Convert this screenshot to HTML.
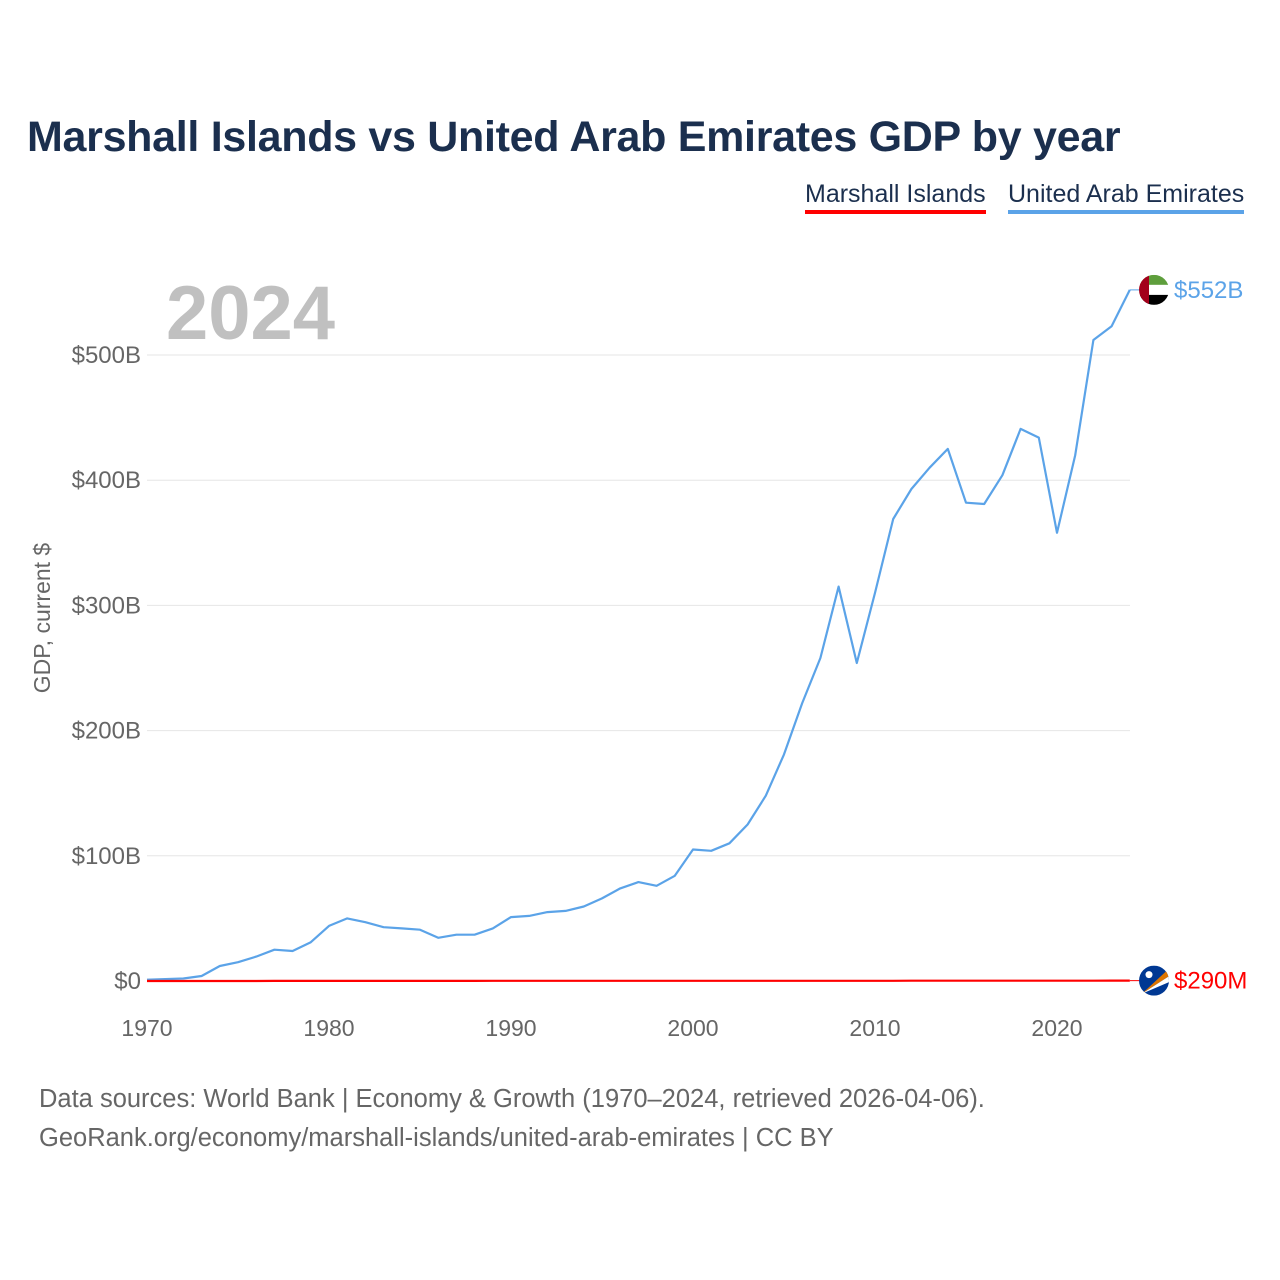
<!DOCTYPE html>
<html><head><meta charset="utf-8">
<style>
body{margin:0;background:#fff;font-family:"Liberation Sans",sans-serif;}
#wrap{position:relative;width:1280px;height:1280px;overflow:hidden;}
.t{position:absolute;white-space:nowrap;}
</style></head>
<body>
<div id="wrap">
<div class="t" style="left:27px;top:113px;font-size:43px;font-weight:bold;color:#1b2f4e;letter-spacing:-0.3px;">Marshall Islands vs United Arab Emirates GDP by year</div>
<div class="t" style="left:805px;top:180px;font-size:25px;color:#1b2f4e;border-bottom:4px solid #ff0000;padding-bottom:1px;">Marshall Islands</div>
<div class="t" style="left:1008px;top:180px;font-size:25px;color:#1b2f4e;border-bottom:4px solid #5ba3e8;padding-bottom:1px;">United Arab Emirates</div>
<div class="t" style="left:39px;top:1080px;font-size:25.5px;color:#666;line-height:39px;">Data sources: World Bank | Economy &amp; Growth (1970–2024, retrieved 2026-04-06).<br>GeoRank.org/economy/marshall-islands/united-arab-emirates | CC BY</div>
<svg id="chart" width="1280" height="1280" style="position:absolute;left:0;top:0"></svg>
</div>
<script>
const years=[];for(let y=1970;y<=2024;y++)years.push(y);
const uae=[1,1.5,2,4,12,15,19.5,25,24,31,44,50,47,43,42,41,34.5,37,37,42,51,52,55,56,59.5,66,74,79,76,84,105,104,110,125,148,181,222,258,315,254,310,369,393,410,425,382,381,404,441,434,358,420,512,523,552];
const mhl=[0.02,0.02,0.02,0.02,0.03,0.03,0.03,0.04,0.04,0.05,0.05,0.06,0.07,0.07,0.08,0.09,0.1,0.1,0.11,0.12,0.13,0.14,0.15,0.15,0.16,0.17,0.17,0.16,0.15,0.15,0.15,0.15,0.16,0.17,0.17,0.17,0.18,0.18,0.19,0.19,0.19,0.19,0.2,0.21,0.21,0.21,0.22,0.23,0.23,0.24,0.24,0.25,0.26,0.28,0.29];
const yTicks=[0,100,200,300,400,500];
const yTickLabels=["$0","$100B","$200B","$300B","$400B","$500B"];
const xTicks=[1970,1980,1990,2000,2010,2020];
const NS="http://www.w3.org/2000/svg";
const svg=document.getElementById('chart');
const X=y=>147+(y-1970)*18.2;
const Y=v=>981-v*1.252;
function mk(tag,attrs,txt){const e=document.createElementNS(NS,tag);for(const k in attrs)e.setAttribute(k,attrs[k]);if(txt!=null)e.textContent=txt;svg.appendChild(e);return e;}
yTicks.forEach((v,i)=>{
 const g=mk('line',{x1:147,x2:1130,y1:Y(v),y2:Y(v),stroke:'#e6e6e6','stroke-width':1});
 
 
 const t=mk('text',{x:141,y:Y(v)+8,'text-anchor':'end','font-size':24,fill:'#666','font-family':'Liberation Sans, sans-serif'},yTickLabels[i]);
 
 
});
xTicks.forEach(y=>{
 const t=mk('text',{x:X(y),y:1036,'text-anchor':'middle','font-size':23,fill:'#666','font-family':'Liberation Sans, sans-serif'},String(y));
 
 
});
const yt=mk('text',{x:0,y:0,transform:'translate(50,618) rotate(-90)','text-anchor':'middle','font-size':23,fill:'#666','font-family':'Liberation Sans, sans-serif'},'GDP, current $');


const yr=mk('text',{x:166,y:339,'font-size':76,'font-weight':'bold',fill:'#c0c0c0','font-family':'Liberation Sans, sans-serif'},'2024');


function line(data,color,name){
 const p=mk('path',{d:data.map((v,i)=>(i?'L':'M')+X(years[i]).toFixed(1)+','+Y(v).toFixed(1)).join(''),fill:'none',stroke:color,'stroke-width':2.2,'stroke-linejoin':'round'});
 
 
}
line(uae,'#5ba3e8','uae-line');
line(mhl,'#ff0000','marshall-islands-line');
const lu=Y(uae[uae.length-1]), lm=Y(mhl[mhl.length-1]);
mk('line',{x1:X(2024),x2:1140,y1:lu,y2:lu,stroke:'#5ba3e8','stroke-width':1});
mk('line',{x1:X(2024),x2:1140,y1:lm,y2:lm,stroke:'#ff0000','stroke-width':1});
mk('defs',{}).innerHTML='<clipPath id="c1"><circle cx="1154" cy="'+lu+'" r="15"/></clipPath><clipPath id="c2"><circle cx="1154" cy="'+lm+'" r="15"/></clipPath>';
const g1=mk('g',{'clip-path':'url(#c1)'});


g1.innerHTML='<rect x="1139" y="'+(lu-15)+'" width="30" height="10" fill="#5e9e3c"/><rect x="1139" y="'+(lu-5)+'" width="30" height="10" fill="#fff"/><rect x="1139" y="'+(lu+5)+'" width="30" height="10" fill="#000"/><rect x="1139" y="'+(lu-15)+'" width="10" height="30" fill="#a3001b"/>';
const g2=mk('g',{'clip-path':'url(#c2)'});


g2.innerHTML='<rect x="1139" y="'+(lm-15)+'" width="30" height="30" fill="#003893"/><polygon points="1142,'+(lm+13)+' 1170,'+(lm-13)+' 1170,'+(lm-5)+'" fill="#dd7500"/><polygon points="1142,'+(lm+13)+' 1170,'+(lm-5)+' 1170,'+(lm+1)+'" fill="#fff"/><circle cx="1149" cy="'+(lm-6)+'" r="3.5" fill="#fff"/>';
const l1=mk('text',{x:1174,y:lu+8,'font-size':24,fill:'#5ba3e8','font-family':'Liberation Sans, sans-serif'},'$552B');


const l2=mk('text',{x:1174,y:lm+8,'font-size':24,fill:'#ff0000','font-family':'Liberation Sans, sans-serif'},'$290M');


</script>
</body></html>
